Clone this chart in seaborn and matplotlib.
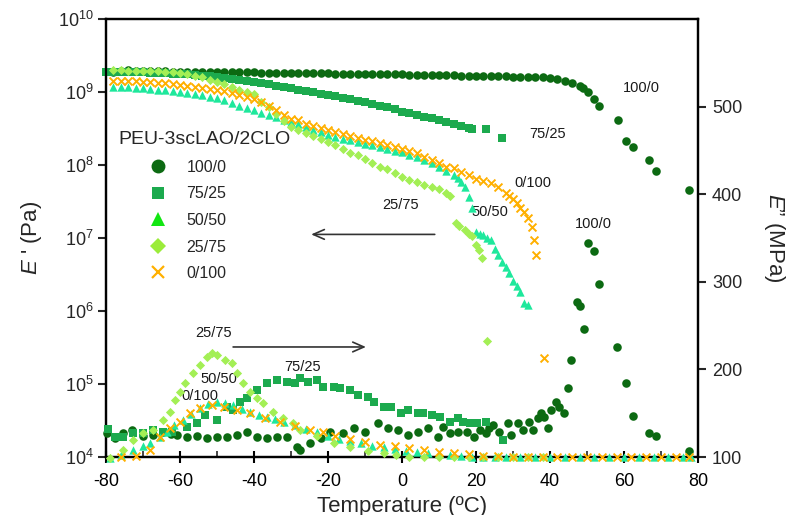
import matplotlib
matplotlib.use("Agg")
import matplotlib.pyplot as plt
import seaborn as sns
import pandas as pd
from matplotlib.lines import Line2D
from matplotlib.ticker import FixedLocator, MultipleLocator, NullLocator, LogFormatterSciNotation

# ---------------- data: storage modulus E' (Pa), left log axis ----------------
T_e1_100_0 = [-78, -76, -74, -72, -70, -68, -66, -64, -62, -60,
              -58, -56, -54, -52, -50, -48, -46, -44, -42, -40,
              -38, -36, -34, -32, -30, -28, -26, -24, -22, -20,
              -18, -16, -14, -12, -10, -8, -6, -4, -2, 0,
              2, 4, 6, 8, 10, 12, 14, 16, 18, 20,
              22, 24, 26, 28, 30, 32, 34, 36, 38, 40,
              42, 44, 46, 48, 49, 50.2, 51.8, 53.2, 58.3, 60.5,
              62.4, 66.7, 68.6, 77.5]
E1_100_0 = [1.90e9, 1.92e9, 2.00e9, 1.95e9, 1.93e9, 1.92e9, 1.92e9, 1.91e9, 1.90e9, 1.90e9,
            1.89e9, 1.89e9, 1.88e9, 1.88e9, 1.87e9, 1.87e9, 1.86e9, 1.86e9, 1.85e9, 1.85e9,
            1.84e9, 1.84e9, 1.83e9, 1.83e9, 1.82e9, 1.82e9, 1.81e9, 1.81e9, 1.80e9, 1.80e9,
            1.79e9, 1.79e9, 1.78e9, 1.77e9, 1.77e9, 1.76e9, 1.76e9, 1.75e9, 1.74e9, 1.74e9,
            1.73e9, 1.72e9, 1.72e9, 1.71e9, 1.70e9, 1.70e9, 1.69e9, 1.68e9, 1.68e9, 1.67e9,
            1.66e9, 1.66e9, 1.65e9, 1.64e9, 1.63e9, 1.62e9, 1.61e9, 1.60e9, 1.58e9, 1.55e9,
            1.50e9, 1.42e9, 1.33e9, 1.22e9, 1.12e9, 1.00e9, 7.9e8, 6.5e8, 4.2e8, 2.1e8,
            1.75e8, 1.18e8, 8.3e7, 4.6e7]

T_e1_75_25 = [-80, -78, -76, -74, -72, -70, -68, -66, -64, -62,
              -60, -58, -56, -54, -52, -50, -48, -46, -44, -42,
              -40, -38, -36, -34, -32, -30, -28, -26, -24, -22,
              -20, -18, -16, -14, -12, -10, -8, -6, -4, -2,
              0, 2, 4, 6, 8, 10, 12, 14, 16, 18,
              19, 22.6, 26.9]
E1_75_25 = [1.87e9, 1.87e9, 1.86e9, 1.86e9, 1.86e9, 1.85e9, 1.84e9, 1.83e9, 1.81e9, 1.79e9,
            1.77e9, 1.74e9, 1.71e9, 1.68e9, 1.65e9, 1.62e9, 1.57e9, 1.52e9, 1.48e9, 1.43e9,
            1.38e9, 1.33e9, 1.28e9, 1.22e9, 1.17e9, 1.12e9, 1.08e9, 1.03e9, 9.9e8, 9.5e8,
            9.1e8, 8.7e8, 8.3e8, 7.9e8, 7.5e8, 7.2e8, 6.9e8, 6.5e8, 6.2e8, 5.8e8,
            5.4e8, 5.1e8, 4.8e8, 4.6e8, 4.35e8, 4.1e8, 3.9e8, 3.6e8, 3.4e8, 3.2e8,
            3.1e8, 3.1e8, 2.35e8]

T_e1_50_50 = [-78, -76, -74, -72, -70, -68, -66, -64, -62, -60,
              -58, -56, -54, -52, -50, -48, -46, -44, -42, -40,
              -38, -36, -34, -32, -30, -28, -26, -24, -22, -20,
              -18, -16, -14, -12, -10, -8, -6, -4, -2, 0,
              2, 4, 6, 8, 10, 12, 14, 15, 16, 17,
              18, 19, 20, 21, 22, 23, 24, 25, 26, 27,
              28, 29, 30, 31, 32, 33, 34]
E1_50_50 = [1.18e9, 1.17e9, 1.16e9, 1.14e9, 1.12e9, 1.10e9, 1.08e9, 1.06e9, 1.03e9, 1.00e9,
            9.7e8, 9.3e8, 9.0e8, 8.6e8, 8.3e8, 7.7e8, 7.1e8, 6.5e8, 6.0e8, 5.6e8,
            5.2e8, 4.8e8, 4.5e8, 4.2e8, 3.9e8, 3.6e8, 3.3e8, 3.0e8, 2.8e8, 2.6e8,
            2.45e8, 2.3e8, 2.2e8, 2.05e8, 1.95e8, 1.85e8, 1.75e8, 1.65e8, 1.55e8, 1.5e8,
            1.38e8, 1.27e8, 1.17e8, 1.05e8, 9.3e7, 8.3e7, 7.2e7, 6.6e7, 5.9e7, 5.0e7,
            3.6e7, 2.6e7, 1.2e7, 1.15e7, 1.1e7, 1.0e7, 9.3e6, 7.0e6, 5.8e6, 4.7e6,
            4.0e6, 3.3e6, 2.6e6, 2.2e6, 1.8e6, 1.3e6, 1.2e6]

T_e1_25_75 = [-78, -76, -74, -72, -70, -68, -66, -64, -62, -60,
              -58, -56, -54, -52, -50, -48, -46, -44, -42, -40,
              -38, -36, -34, -32, -30, -28, -26, -24, -22, -20,
              -18, -16, -14, -12, -10, -8, -6, -4, -2, 0,
              2, 4, 6, 8, 10, 12, 13, 14.5, 15.5, 17,
              18, 19, 20, 20.7, 21.5, 23]
E1_25_75 = [2.00e9, 1.98e9, 1.97e9, 1.96e9, 1.95e9, 1.94e9, 1.92e9, 1.90e9, 1.86e9, 1.82e9,
            1.75e9, 1.67e9, 1.58e9, 1.48e9, 1.38e9, 1.27e9, 1.16e9, 1.07e9, 1.00e9, 9.5e8,
            7.2e8, 6.3e8, 5.0e8, 4.0e8, 3.3e8, 3.0e8, 2.75e8, 2.5e8, 2.24e8, 2.04e8,
            1.86e8, 1.66e8, 1.48e8, 1.35e8, 1.2e8, 1.07e8, 9.5e7, 8.7e7, 7.8e7, 6.9e7,
            6.3e7, 5.8e7, 5.4e7, 5.0e7, 4.7e7, 4.2e7, 3.8e7, 1.6e7, 1.45e7, 1.3e7,
            1.15e7, 1.07e7, 8.0e6, 6.9e6, 5.4e6, 3.9e5]

T_e1_0_100 = [-78, -76, -74, -72, -70, -68, -66, -64, -62, -60,
              -58, -56, -54, -52, -50, -48, -46, -44, -42, -40,
              -38, -36, -34, -32, -30, -28, -26, -24, -22, -20,
              -18, -16, -14, -12, -10, -8, -6, -4, -2, 0,
              2, 4, 6, 8, 10, 12, 14, 16, 18, 20,
              22, 24, 26, 28, 29, 30, 31, 32, 33, 34,
              35, 35.7, 36.2, 38.3]
E1_0_100 = [1.42e9, 1.42e9, 1.41e9, 1.40e9, 1.38e9, 1.36e9, 1.34e9, 1.31e9, 1.28e9, 1.25e9,
            1.22e9, 1.18e9, 1.14e9, 1.10e9, 1.06e9, 1.02e9, 9.8e8, 9.2e8, 8.6e8, 8.0e8,
            7.3e8, 6.5e8, 5.6e8, 4.8e8, 4.3e8, 4.1e8, 3.7e8, 3.4e8, 3.2e8, 3.0e8,
            2.8e8, 2.65e8, 2.5e8, 2.35e8, 2.2e8, 2.1e8, 2.0e8, 1.85e8, 1.75e8, 1.65e8,
            1.55e8, 1.48e8, 1.3e8, 1.16e8, 1.05e8, 9.5e7, 9.0e7, 8.0e7, 7.2e7, 6.5e7,
            6.1e7, 5.7e7, 5.0e7, 4.2e7, 3.8e7, 3.4e7, 3.0e7, 2.6e7, 2.3e7, 1.9e7,
            1.4e7, 9.3e6, 5.9e6, 2.3e5]

# ---------------- data: loss modulus E'' (MPa), right linear axis ----------------
T_e2_100_0 = [-79.7, -77.5, -75.4, -73, -70, -67.3, -64.6, -62.5, -60.8, -58.1,
              -55.4, -52.7, -50, -47.2, -44.5, -41.8, -39.1, -36.4, -33.7, -31,
              -28.3, -27.5, -24.8, -22, -19.4, -16, -13.1, -10, -6.6, -3.9,
              -1.2, 1.5, 4.2, 6.9, 9.6, 11.2, 13, 15, 17.7, 19.5,
              21.2, 22.6, 23.5, 24.5, 26.1, 28.6, 29.4, 31.3, 32.6, 34.2,
              35.3, 36.7, 37.5, 38.3, 39.4, 40.2, 41.5, 42.3, 43.7, 44.8,
              45.6, 47.2, 48.0, 49.1, 50.2, 51.8, 53.2, 58.1, 60.5, 62.4,
              66.7, 68.6, 77.5]
E2_100_0 = [127, 122, 127, 131, 124, 125, 129, 126, 125, 123,
            124, 122, 123, 123, 125, 129, 123, 122, 123, 123,
            111, 108, 116, 122, 129, 127, 133, 128, 139, 133,
            131, 125, 129, 133, 123, 134, 127, 129, 129, 123,
            131, 127, 133, 137, 129, 139, 125, 139, 131, 140,
            131, 145, 150, 146, 133, 154, 163, 157, 150, 179,
            211, 277, 272, 246, 344, 335, 297, 226, 184, 147,
            127, 124, 107]

T_e2_75_25 = [-79.5, -77.5, -75.4, -72.7, -70, -67.3, -64.6, -62.2, -58.1, -55.4,
              -53.2, -50, -47.2, -45.6, -43.7, -41.8, -39.1, -36.4, -33.7, -31,
              -29, -27.5, -25.5, -22.9, -21.3, -18.5, -16.7, -14, -12, -9.3,
              -7.7, -5, -3.1, -0.4, 1.5, 4.2, 5.8, 8, 10.4, 13.1,
              15, 16.6, 18.5, 20.4, 22.6, 27.2]
E2_75_25 = [132, 123, 123, 127, 127, 131, 129, 129, 134, 139,
            148, 142, 157, 154, 163, 167, 176, 184, 188, 186,
            184, 190, 186, 188, 180, 180, 179, 176, 171, 169,
            163, 157, 157, 150, 154, 150, 150, 148, 146, 140,
            145, 140, 139, 139, 140, 119]

T_e2_50_50 = [-79, -76, -72.7, -70, -68, -65.5, -63.5, -61.5, -59.2, -57,
              -54.6, -52.3, -50, -47.8, -45.6, -43.3, -41, -38.7, -36.4, -34.2,
              -32, -29, -26, -23, -20, -17, -14, -11, -8, -5,
              -2, 1, 4, 7, 10, 13, 16, 19, 22, 25,
              28, 32, 36, 40, 44, 48, 52, 56, 60, 64,
              68, 72, 76, 78]
E2_50_50 = [99, 102, 108, 112, 116, 123, 129, 136, 142, 149,
            156, 160, 163, 162, 159, 155, 151, 148, 146, 143,
            140, 136, 132, 128, 124, 121, 118, 116, 113, 111,
            109, 107, 106, 104, 103, 102, 101, 100.5, 100, 100,
            100, 100, 100, 100, 100, 100, 100, 100, 100, 100,
            100, 100, 100, 100]

T_e2_25_75 = [-79, -75.4, -72.7, -70, -67.3, -64.6, -62.7, -61.3, -60, -58.6,
              -56.4, -54.6, -52.7, -51.3, -50, -47.8, -45.9, -44.5, -42.9, -41,
              -39.1, -37.5, -34.8, -32.1, -29.4, -27.5, -23, -18.5, -14, -9.3,
              -5, -1.6, 2, 6, 10, 14, 18, 22, 26, 30,
              34, 38]
E2_25_75 = [99, 108, 119, 127, 131, 142, 151, 165, 174, 184,
            196, 205, 214, 219, 216, 211, 207, 196, 184, 174,
            167, 162, 151, 144, 139, 131, 124, 116, 111, 107,
            104, 102, 100.5, 100, 100, 100, 100, 100, 100, 100,
            100, 100]

T_e2_0_100 = [-76, -72, -68, -65.4, -62.7, -60, -57.3, -54.6, -51.3, -48,
              -44.5, -41, -37, -33, -29, -25, -21.3, -18, -14, -10,
              -6, -2, 2, 6, 10, 14, 18, 22, 26, 30,
              34, 38, 42, 46, 50, 54, 58, 62, 66, 70,
              74, 77.5]
E2_0_100 = [100, 101, 108, 123, 133, 140, 150, 156, 159, 157,
            154, 150, 145, 140, 135, 131, 128, 124, 121, 117,
            114, 112, 110, 108, 106, 105, 103, 101.5, 101, 100.5,
            100.5, 100.5, 100.5, 100.5, 100.5, 100.5, 100.5, 100.5, 100.5, 100.5,
            100.5, 100.5]

series_labels = ["100/0", "75/25", "50/50", "25/75", "0/100"]
legend_title = "PEU-3scLAO/2CLO"
x_ticks = [-80, -60, -40, -20, 0, 20, 40, 60, 80]
left_ticks = [1e4, 1e5, 1e6, 1e7, 1e8, 1e9, 1e10]
right_ticks = [100, 200, 300, 400, 500]

# ---------------- style ----------------
sns.set_style("ticks")
plt.rcParams['font.family'] = ['Liberation Sans', 'DejaVu Sans']
plt.rcParams['mathtext.fontset'] = 'custom'
plt.rcParams['mathtext.rm'] = 'Liberation Sans'
plt.rcParams['mathtext.it'] = 'Liberation Sans:italic'
plt.rcParams['axes.unicode_minus'] = False

colors = ["#0c6a12", "#1caa4e", "#1ee89c", "#a3ef55", "#ffb000"]
markers = ["o", "s", "^", "D", "x"]
sizes = [38, 32, 36, 22, 32]

fig = plt.figure(figsize=(8.06, 5.15), dpi=100)
ax = fig.add_axes([106 / 806, 58 / 515, 592 / 806, 438 / 515])
ax2 = ax.twinx()

e1_sets = [(T_e1_100_0, E1_100_0), (T_e1_75_25, E1_75_25), (T_e1_50_50, E1_50_50),
           (T_e1_25_75, E1_25_75), (T_e1_0_100, E1_0_100)]
e2_sets = [(T_e2_100_0, E2_100_0), (T_e2_75_25, E2_75_25), (T_e2_50_50, E2_50_50),
           (T_e2_25_75, E2_25_75), (T_e2_0_100, E2_0_100)]

for i, (t, e) in enumerate(e1_sets):
    df = pd.DataFrame({"T": t, "E": e})
    kw = dict(linewidth=1.4) if markers[i] == "x" else dict(linewidth=0)
    sns.scatterplot(data=df, x="T", y="E", ax=ax, marker=markers[i], s=sizes[i],
                    color=colors[i], zorder=3 + i, legend=False, clip_on=False, **kw)
for i, (t, e) in enumerate(e2_sets):
    df = pd.DataFrame({"T": t, "E": e})
    kw = dict(linewidth=1.4) if markers[i] == "x" else dict(linewidth=0)
    sns.scatterplot(data=df, x="T", y="E", ax=ax2, marker=markers[i], s=sizes[i],
                    color=colors[i], zorder=3 + i, legend=False, clip_on=False, **kw)

ax.set_xlim(-80, 80)
ax.set_yscale("log")
ax.set_ylim(1e4, 1e10)
ax2.set_ylim(100, 600)

ax.xaxis.set_major_locator(FixedLocator(x_ticks))
ax.xaxis.set_minor_locator(MultipleLocator(10))
ax.yaxis.set_major_locator(FixedLocator(left_ticks))
ax.yaxis.set_major_formatter(LogFormatterSciNotation())
ax.yaxis.set_minor_locator(NullLocator())
ax2.yaxis.set_major_locator(FixedLocator(right_ticks))

ax.tick_params(axis="x", which="major", direction="inout", length=9, width=1.5,
               labelsize=13, pad=7, bottom=True, colors="black")
ax.tick_params(axis="x", which="minor", direction="in", length=4, width=1.2, bottom=True)
ax.tick_params(axis="y", which="major", direction="out", length=6, width=1.5,
               labelsize=13, left=True, pad=3)
ax2.tick_params(axis="y", which="major", direction="out", length=6, width=1.5,
                labelsize=13, right=True, pad=4)
for a in (ax, ax2):
    for s in a.spines.values():
        s.set_linewidth(1.6)
        s.set_color("black")
        s.set_visible(True)

ax.set_xlabel("Temperature (ºC)", fontsize=16)
ax.xaxis.set_label_coords(0.5, -0.088)
ax.set_ylabel(r"$E$ ' (Pa)", fontsize=16)
ax.yaxis.set_label_coords(-0.105, 0.5)
ax2.set_ylabel(r"$E$” (MPa)", fontsize=16, rotation=270, va="bottom")
ax2.yaxis.set_label_coords(1.108, 0.5)

# arrows
ax.annotate("", xy=(-25.3, 1.12e7), xytext=(9.6, 1.12e7),
            arrowprops=dict(arrowstyle="->,head_length=0.8,head_width=0.35", color="#333333", lw=1.2))
ax2.annotate("", xy=(-9.0, 225.6), xytext=(-46.4, 225.6),
             arrowprops=dict(arrowstyle="->,head_length=0.8,head_width=0.35", color="#333333", lw=1.2))

# curve labels
tk = dict(fontsize=10.5, color="#1a1a1a", ha="center", va="center")
ax.text(64.6, 10 ** 9.05, "100/0", **tk)
ax.text(39.4, 10 ** 8.42, "75/25", **tk)
ax.text(35.3, 10 ** 7.75, "0/100", **tk)
ax.text(23.7, 10 ** 7.36, "50/50", **tk)
ax.text(51.8, 10 ** 7.19, "100/0", **tk)
ax.text(-0.4, 10 ** 7.45, "25/75", **tk)
ax2.text(-50.8, 241.6, "25/75", **tk)
ax2.text(-49.4, 189, "50/50", **tk)
ax2.text(-54.6, 170, "0/100", **tk)
ax2.text(-27.0, 203, "75/25", **tk)

# legend
ax2.text(118 / 806, 1 - 140 / 515, legend_title, transform=fig.transFigure,
         fontsize=14, ha="left", va="center")
leg_colors = ["#0c6a12", "#1caa4e", "#12e612", "#9bec3a", "#ffb000"]
leg_ms = [10, 9, 10, 8, 8]
handles = [Line2D([], [], linestyle="none", marker=markers[i], color=leg_colors[i],
                  markersize=leg_ms[i], markeredgewidth=1.6 if markers[i] == "x" else 0)
           for i in range(5)]
leg = ax2.legend(handles, series_labels, loc="upper left",
                 bbox_to_anchor=(145 / 806, 1 - 160 / 515), bbox_transform=fig.transFigure,
                 frameon=False, fontsize=11.5, handlelength=1.6, handletextpad=1.0,
                 labelspacing=0.72, borderpad=0, borderaxespad=0)

fig.savefig("out.png", dpi=100)
